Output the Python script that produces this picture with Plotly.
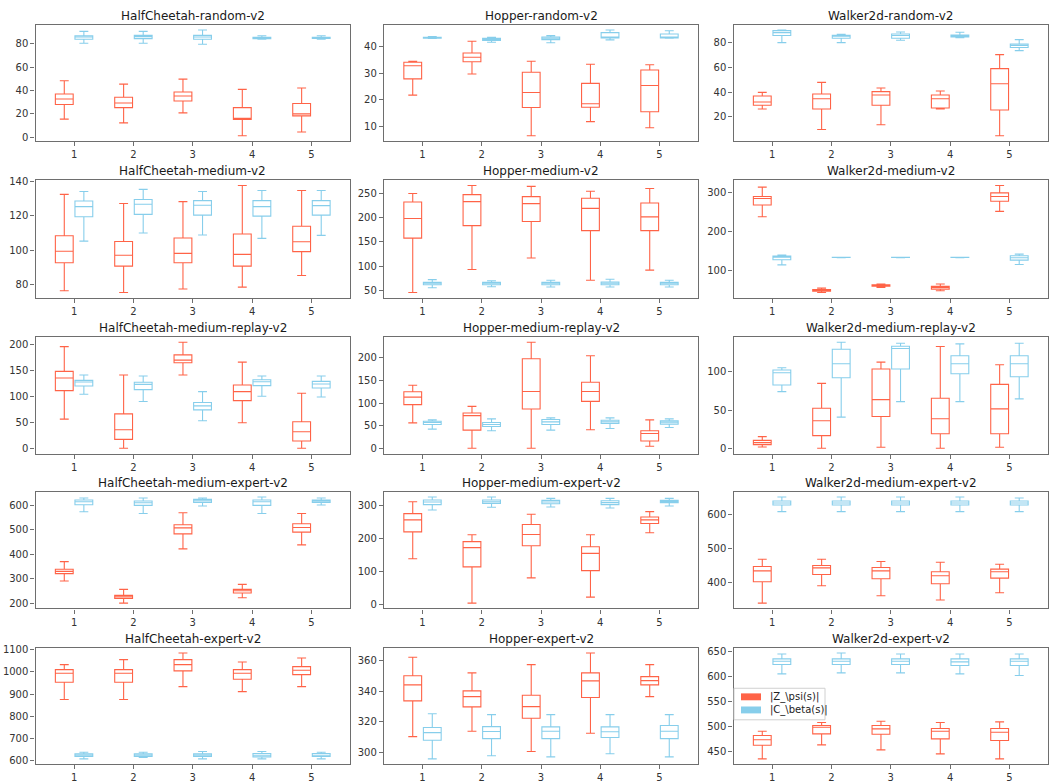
import plotly.graph_objects as go

# Runs shown on every x axis
RUNS = [1, 2, 3, 4, 5]
RUN_LABELS = ["1", "2", "3", "4", "5"]

SERIES_NAMES = [r"|Z_\psi(s)|", r"|C_\beta(s)|"]
SERIES_COLORS = ["#FF6347", "#87CEEB"]

# Each entry: (lower whisker, Q1, median, Q3, upper whisker) for runs 1..5
HC_RANDOM_Z = [(15.4, 27.9, 32.7, 37.0, 48.4), (12.2, 25.3, 29.3, 34.2, 45.5), (20.8, 31.0, 35.3, 38.7, 49.8),
               (1.1, 15.1, 16.0, 25.3, 41.0), (4.3, 18.2, 19.9, 28.8, 42.1)]
HC_RANDOM_C = [(80.6, 84.0, 86.0, 87.1, 90.8), (80.6, 84.6, 86.3, 87.4, 90.8), (79.7, 84.0, 86.0, 87.4, 92.0),
               (84.0, 84.6, 85.2, 85.8, 87.0), (84.0, 84.8, 85.3, 85.8, 87.0)]

HOP_RANDOM_Z = [(21.8, 27.9, 32.8, 34.1, 34.5), (29.7, 34.3, 36.0, 37.6, 42.0), (6.6, 17.2, 22.8, 30.4, 34.5),
                (11.9, 17.3, 18.6, 26.2, 33.4), (9.6, 15.6, 25.4, 31.2, 33.2)]
HOP_RANDOM_C = [(43.0, 43.1, 43.3, 43.5, 43.7), (41.6, 42.3, 42.7, 43.1, 43.5), (41.4, 42.6, 43.1, 43.6, 44.1),
                (42.5, 43.2, 43.5, 45.2, 46.2), (43.1, 43.2, 43.5, 44.7, 45.9)]

W_RANDOM_Z = [(26.4, 29.4, 32.0, 36.9, 39.8), (9.9, 26.4, 34.7, 38.5, 47.9), (13.7, 29.4, 37.7, 40.4, 43.3),
              (26.4, 27.2, 34.7, 37.7, 40.9), (4.8, 25.6, 46.8, 59.0, 70.3)]
W_RANDOM_C = [(80.0, 85.7, 88.1, 89.7, 90.2), (80.0, 83.5, 85.1, 85.9, 86.7), (81.9, 83.5, 85.7, 87.0, 88.6),
              (84.0, 84.6, 85.7, 86.2, 88.4), (73.5, 76.0, 77.8, 78.9, 82.4)]

HC_MEDIUM_Z = [(76.5, 92.7, 99.4, 108.4, 132.4), (75.5, 90.8, 97.1, 105.1, 127.1), (77.5, 92.7, 98.2, 107.1, 128.2),
               (78.6, 90.8, 97.6, 109.4, 137.6), (85.3, 99.2, 104.9, 113.9, 134.7)]
HC_MEDIUM_C = [(105.3, 119.4, 125.3, 128.6, 134.1), (110.0, 120.8, 126.7, 129.4, 135.3),
               (108.8, 120.4, 126.1, 128.8, 134.1), (106.9, 119.8, 125.3, 128.8, 134.7),
               (108.6, 120.4, 125.9, 128.8, 134.7)]

HOP_MEDIUM_Z = [(45.8, 157.6, 198.0, 232.0, 249.3), (93.0, 183.3, 232.6, 247.2, 266.0),
                (116.7, 191.7, 228.5, 243.0, 264.0), (70.8, 173.0, 218.8, 239.6, 254.2),
                (91.7, 173.0, 201.4, 229.9, 259.7)]
HOP_MEDIUM_C = [(55.6, 61.8, 64.6, 66.7, 72.2), (57.6, 61.8, 64.6, 66.7, 70.0), (56.9, 61.8, 64.6, 66.7, 70.8),
                (56.9, 61.8, 64.6, 67.4, 72.9), (56.9, 61.8, 64.6, 66.7, 70.8)]

W_MEDIUM_Z = [(238.3, 268.7, 285.2, 290.4, 314.8), (42.6, 46.1, 48.7, 50.4, 53.9), (55.7, 59.1, 60.9, 62.6, 64.3),
              (47.0, 51.3, 55.7, 58.3, 64.3), (252.2, 278.3, 290.4, 300.0, 319.1)]
W_MEDIUM_C = [(113.9, 127.0, 133.9, 136.5, 139.1), (132.5, 132.8, 133.0, 133.2, 133.5),
              (132.5, 132.8, 133.0, 133.2, 133.5), (132.5, 132.8, 133.0, 133.2, 133.5),
              (114.8, 126.1, 132.2, 137.4, 141.7)]

HC_MREPLAY_Z = [(56.0, 110.8, 135.0, 147.8, 195.5), (0.0, 17.2, 35.7, 66.2, 140.8),
                (140.8, 164.3, 169.4, 179.6, 203.8), (49.0, 91.7, 108.9, 121.7, 165.6),
                (0.0, 14.0, 31.8, 51.0, 105.7)]
HC_MREPLAY_C = [(103.8, 119.7, 127.4, 130.6, 140.8), (89.8, 112.7, 122.9, 126.8, 138.9),
                (52.9, 73.9, 81.5, 87.9, 108.9), (100.0, 120.4, 128.0, 131.8, 138.9),
                (98.7, 115.9, 123.6, 128.7, 138.9)]

HOP_MREPLAY_Z = [(56.2, 96.4, 113.1, 124.8, 139.4), (0.0, 40.1, 72.3, 78.1, 92.7), (0.0, 86.9, 125.5, 197.8, 234.3),
                 (40.9, 103.6, 125.5, 146.0, 204.4), (4.4, 16.1, 32.8, 38.7, 62.8)]
HOP_MREPLAY_C = [(42.3, 52.6, 56.9, 59.9, 62.8), (38.7, 48.2, 52.6, 56.9, 65.0), (40.1, 52.6, 58.4, 63.5, 67.2),
                 (43.8, 54.7, 58.4, 62.0, 67.2), (46.0, 53.3, 57.7, 60.6, 65.0)]

W_MREPLAY_Z = [(1.7, 4.8, 7.4, 10.4, 15.2), (0.0, 16.5, 35.9, 52.4, 84.8), (1.3, 41.6, 63.6, 103.5, 112.6),
               (0.0, 19.0, 38.5, 65.4, 132.9), (1.3, 19.0, 51.5, 83.5, 109.1)]
W_MREPLAY_C = [(74.0, 82.7, 98.7, 102.2, 105.2), (40.7, 92.2, 110.4, 129.4, 138.5),
               (61.0, 103.5, 130.3, 133.3, 137.2), (61.0, 97.4, 110.4, 120.8, 136.4),
               (64.5, 93.5, 110.4, 120.8, 137.2)]

HC_MEXPERT_Z = [(291.5, 321.5, 331.0, 339.3, 370.6), (201.4, 220.5, 227.3, 232.8, 257.3),
                (422.5, 484.0, 508.5, 520.8, 570.0), (223.2, 242.3, 251.9, 257.3, 277.8),
                (439.0, 490.8, 510.0, 524.9, 567.2)]
HC_MEXPERT_C = [(574.0, 602.7, 615.0, 621.8, 630.0), (567.2, 600.0, 611.0, 617.7, 630.0),
                (597.3, 612.3, 619.1, 624.6, 630.0), (567.2, 600.0, 615.0, 621.8, 634.1),
                (601.4, 612.3, 617.7, 621.8, 630.0)]

HOP_MEXPERT_Z = [(138.6, 219.3, 255.2, 274.2, 310.0), (5.0, 114.0, 172.0, 190.0, 210.4),
                 (80.8, 177.5, 211.4, 241.3, 272.2), (22.9, 102.7, 154.5, 174.5, 210.4),
                 (216.4, 244.3, 255.2, 264.2, 280.2)]
HOP_MEXPERT_C = [(285.1, 301.1, 309.0, 315.0, 324.0), (293.1, 305.0, 310.0, 315.0, 324.0),
                 (294.1, 304.0, 309.0, 314.0, 320.0), (291.1, 301.1, 307.1, 313.0, 320.0),
                 (297.1, 307.1, 311.0, 314.0, 320.0)]

W_MEXPERT_Z = [(341.0, 402.9, 434.8, 447.3, 468.6), (391.3, 424.2, 443.5, 450.2, 468.6),
               (362.3, 411.6, 434.8, 444.4, 461.8), (349.8, 397.1, 420.3, 431.9, 459.9),
               (371.0, 413.5, 431.9, 439.6, 454.1)]
W_MEXPERT_C = [(606.8, 626.1, 631.9, 637.7, 649.3), (606.8, 626.1, 631.9, 637.7, 649.3),
               (606.8, 626.1, 631.9, 637.7, 649.3), (606.8, 626.1, 631.9, 637.7, 649.3),
               (606.8, 626.1, 631.9, 637.7, 646.4)]

HC_EXPERT_Z = [(874.9, 953.5, 994.3, 1010.9, 1033.5), (874.9, 953.5, 994.3, 1010.9, 1056.2),
               (933.8, 1004.8, 1033.5, 1056.2, 1086.4), (911.0, 967.0, 994.3, 1010.9, 1045.6),
               (933.8, 988.2, 1007.9, 1024.5, 1063.7)]
HC_EXPERT_C = [(606.0, 616.6, 622.7, 628.7, 636.3), (612.1, 616.6, 622.7, 628.7, 636.3),
               (606.0, 616.6, 622.7, 628.7, 639.3), (606.0, 615.1, 622.7, 630.2, 639.3),
               (606.0, 616.6, 622.7, 630.2, 636.3)]

HOP_EXPERT_Z = [(310.4, 333.6, 344.0, 350.0, 362.0), (313.9, 329.7, 336.4, 340.1, 351.8),
                (300.7, 322.3, 329.9, 337.3, 357.2), (312.6, 335.8, 346.6, 351.8, 364.8),
                (336.4, 344.0, 346.8, 349.4, 357.2)]
HOP_EXPERT_C = [(295.9, 308.0, 313.0, 316.3, 325.2), (297.9, 309.1, 313.7, 316.9, 324.7),
                (297.2, 309.1, 313.9, 316.7, 324.7), (299.2, 309.8, 313.5, 316.7, 324.7),
                (297.2, 309.1, 313.9, 317.6, 324.7)]

W_EXPERT_Z = [(436.0, 463.3, 474.0, 482.6, 491.2), (464.0, 485.9, 499.2, 502.5, 508.5),
              (454.0, 485.2, 495.8, 502.5, 511.1), (446.0, 475.9, 491.2, 496.5, 508.5),
              (436.0, 472.6, 489.2, 496.5, 509.8)]
W_EXPERT_C = [(605.5, 624.1, 630.7, 635.4, 645.3), (607.5, 624.1, 630.7, 635.4, 647.3),
              (607.5, 624.1, 630.7, 635.4, 645.3), (605.5, 622.1, 629.4, 635.4, 645.3),
              (602.2, 622.1, 630.7, 635.4, 645.3)]

# Panel titles and y tick values, row by row
PANEL_TITLES = [
    "HalfCheetah-random-v2", "Hopper-random-v2", "Walker2d-random-v2",
    "HalfCheetah-medium-v2", "Hopper-medium-v2", "Walker2d-medium-v2",
    "HalfCheetah-medium-replay-v2", "Hopper-medium-replay-v2", "Walker2d-medium-replay-v2",
    "HalfCheetah-medium-expert-v2", "Hopper-medium-expert-v2", "Walker2d-medium-expert-v2",
    "HalfCheetah-expert-v2", "Hopper-expert-v2", "Walker2d-expert-v2",
]
PANEL_Z = [HC_RANDOM_Z, HOP_RANDOM_Z, W_RANDOM_Z, HC_MEDIUM_Z, HOP_MEDIUM_Z, W_MEDIUM_Z,
           HC_MREPLAY_Z, HOP_MREPLAY_Z, W_MREPLAY_Z, HC_MEXPERT_Z, HOP_MEXPERT_Z, W_MEXPERT_Z,
           HC_EXPERT_Z, HOP_EXPERT_Z, W_EXPERT_Z]
PANEL_C = [HC_RANDOM_C, HOP_RANDOM_C, W_RANDOM_C, HC_MEDIUM_C, HOP_MEDIUM_C, W_MEDIUM_C,
           HC_MREPLAY_C, HOP_MREPLAY_C, W_MREPLAY_C, HC_MEXPERT_C, HOP_MEXPERT_C, W_MEXPERT_C,
           HC_EXPERT_C, HOP_EXPERT_C, W_EXPERT_C]
PANEL_YTICKS = [
    [0, 20, 40, 60, 80], [10, 20, 30, 40], [20, 40, 60, 80],
    [80, 100, 120, 140], [50, 100, 150, 200, 250], [100, 200, 300],
    [0, 50, 100, 150, 200], [0, 50, 100, 150, 200], [0, 50, 100],
    [200, 300, 400, 500, 600], [0, 100, 200, 300], [400, 500, 600],
    [600, 700, 800, 900, 1000, 1100], [300, 320, 340, 360], [450, 500, 550, 600, 650],
]

# ---- layout geometry (pixels) ----
W, H = 1050, 783
COL_X = [(35.5, 350.0), (384.0, 698.0), (733.5, 1048.0)]
ROW_Y = [(21.0, 139.0), (178.6, 298.0), (337.7, 456.0), (494.7, 613.0), (652.8, 771.0)]

FONT = "DejaVu Sans"
SPINE = "#6e6e6e"
TICK_TEXT = "#333333"

fig = go.Figure()
layout = dict(
    width=W, height=H,
    margin=dict(l=0, r=0, t=0, b=0),
    paper_bgcolor="white", plot_bgcolor="white",
    font=dict(family=FONT, size=10, color=TICK_TEXT),
    boxmode="group", boxgap=0.34, boxgroupgap=0.09,
    showlegend=False,
    annotations=[],
    shapes=[],
)


def stats(rows, i):
    return [r[i] for r in rows]


def px_x(x):
    return x / W


def px_y(y):
    return 1 - y / H


for k, title in enumerate(PANEL_TITLES):
    r, c = divmod(k, 3)
    sfx = "" if k == 0 else str(k + 1)
    xname, yname = "x" + sfx, "y" + sfx

    for rows, name, color, grp in ((PANEL_Z[k], SERIES_NAMES[0], SERIES_COLORS[0], "z"),
                                   (PANEL_C[k], SERIES_NAMES[1], SERIES_COLORS[1], "c")):
        fig.add_trace(go.Box(
            x=RUNS,
            lowerfence=stats(rows, 0), q1=stats(rows, 1), median=stats(rows, 2),
            q3=stats(rows, 3), upperfence=stats(rows, 4),
            name=name, offsetgroup=grp,
            line=dict(color=color, width=1.1),
            fillcolor="rgba(0,0,0,0)",
            whiskerwidth=0.5,
            boxpoints=False,
            hoverinfo="skip",
            xaxis=xname, yaxis=yname,
        ))

    lo = min(min(row[0] for row in PANEL_Z[k]), min(row[0] for row in PANEL_C[k]))
    hi = max(max(row[4] for row in PANEL_Z[k]), max(row[4] for row in PANEL_C[k]))
    pad = 0.05 * (hi - lo)

    x0, x1 = COL_X[c]
    y0, y1 = ROW_Y[r]
    axis_common = dict(
        showline=True, mirror=True, linecolor=SPINE, linewidth=1.3,
        ticks="outside", ticklen=4, tickwidth=1, tickcolor=SPINE,
        showgrid=False, zeroline=False,
        tickfont=dict(family=FONT, size=10, color=TICK_TEXT),
    )
    layout["xaxis" + sfx] = dict(
        domain=[px_x(x0), px_x(x1)], anchor=yname,
        range=[0.35, 5.65], tickmode="array", tickvals=RUNS, ticktext=RUN_LABELS,
        **axis_common,
    )
    layout["yaxis" + sfx] = dict(
        domain=[px_y(y1), px_y(y0)], anchor=xname,
        range=[lo - pad, hi + pad], tickmode="array", tickvals=PANEL_YTICKS[k],
        **axis_common,
    )
    layout["annotations"].append(dict(
        text=title, x=px_x((x0 + x1) / 2), y=px_y(y0 - 9),
        xref="paper", yref="paper", xanchor="center", yanchor="middle",
        showarrow=False, font=dict(family=FONT, size=12, color="#1a1a1a"),
    ))

# Legend box with filled colour patches, placed inside the last panel
LEG_LEFT, LEG_TOP, LEG_RIGHT, LEG_BOTTOM = 734, 694, 825, 726
layout["shapes"].append(dict(
    type="rect", xref="paper", yref="paper", layer="above",
    x0=px_x(LEG_LEFT), x1=px_x(LEG_RIGHT), y0=px_y(LEG_BOTTOM), y1=px_y(LEG_TOP),
    fillcolor="rgba(255,255,255,0.8)", line=dict(color="#d0d0d0", width=1),
))
for i, (name, color) in enumerate(zip(SERIES_NAMES, SERIES_COLORS)):
    cy = 702.7 + i * 13.3
    layout["shapes"].append(dict(
        type="rect", xref="paper", yref="paper", layer="above",
        x0=px_x(741), x1=px_x(761), y0=px_y(cy + 3.5), y1=px_y(cy - 3.5),
        fillcolor=color, line=dict(width=0),
    ))
    layout["annotations"].append(dict(
        text=name, x=px_x(768), y=px_y(cy),
        xref="paper", yref="paper", xanchor="left", yanchor="middle",
        showarrow=False, font=dict(family=FONT, size=10, color="#222222"),
    ))

fig.update_layout(**layout)
fig.write_html("out.html")
